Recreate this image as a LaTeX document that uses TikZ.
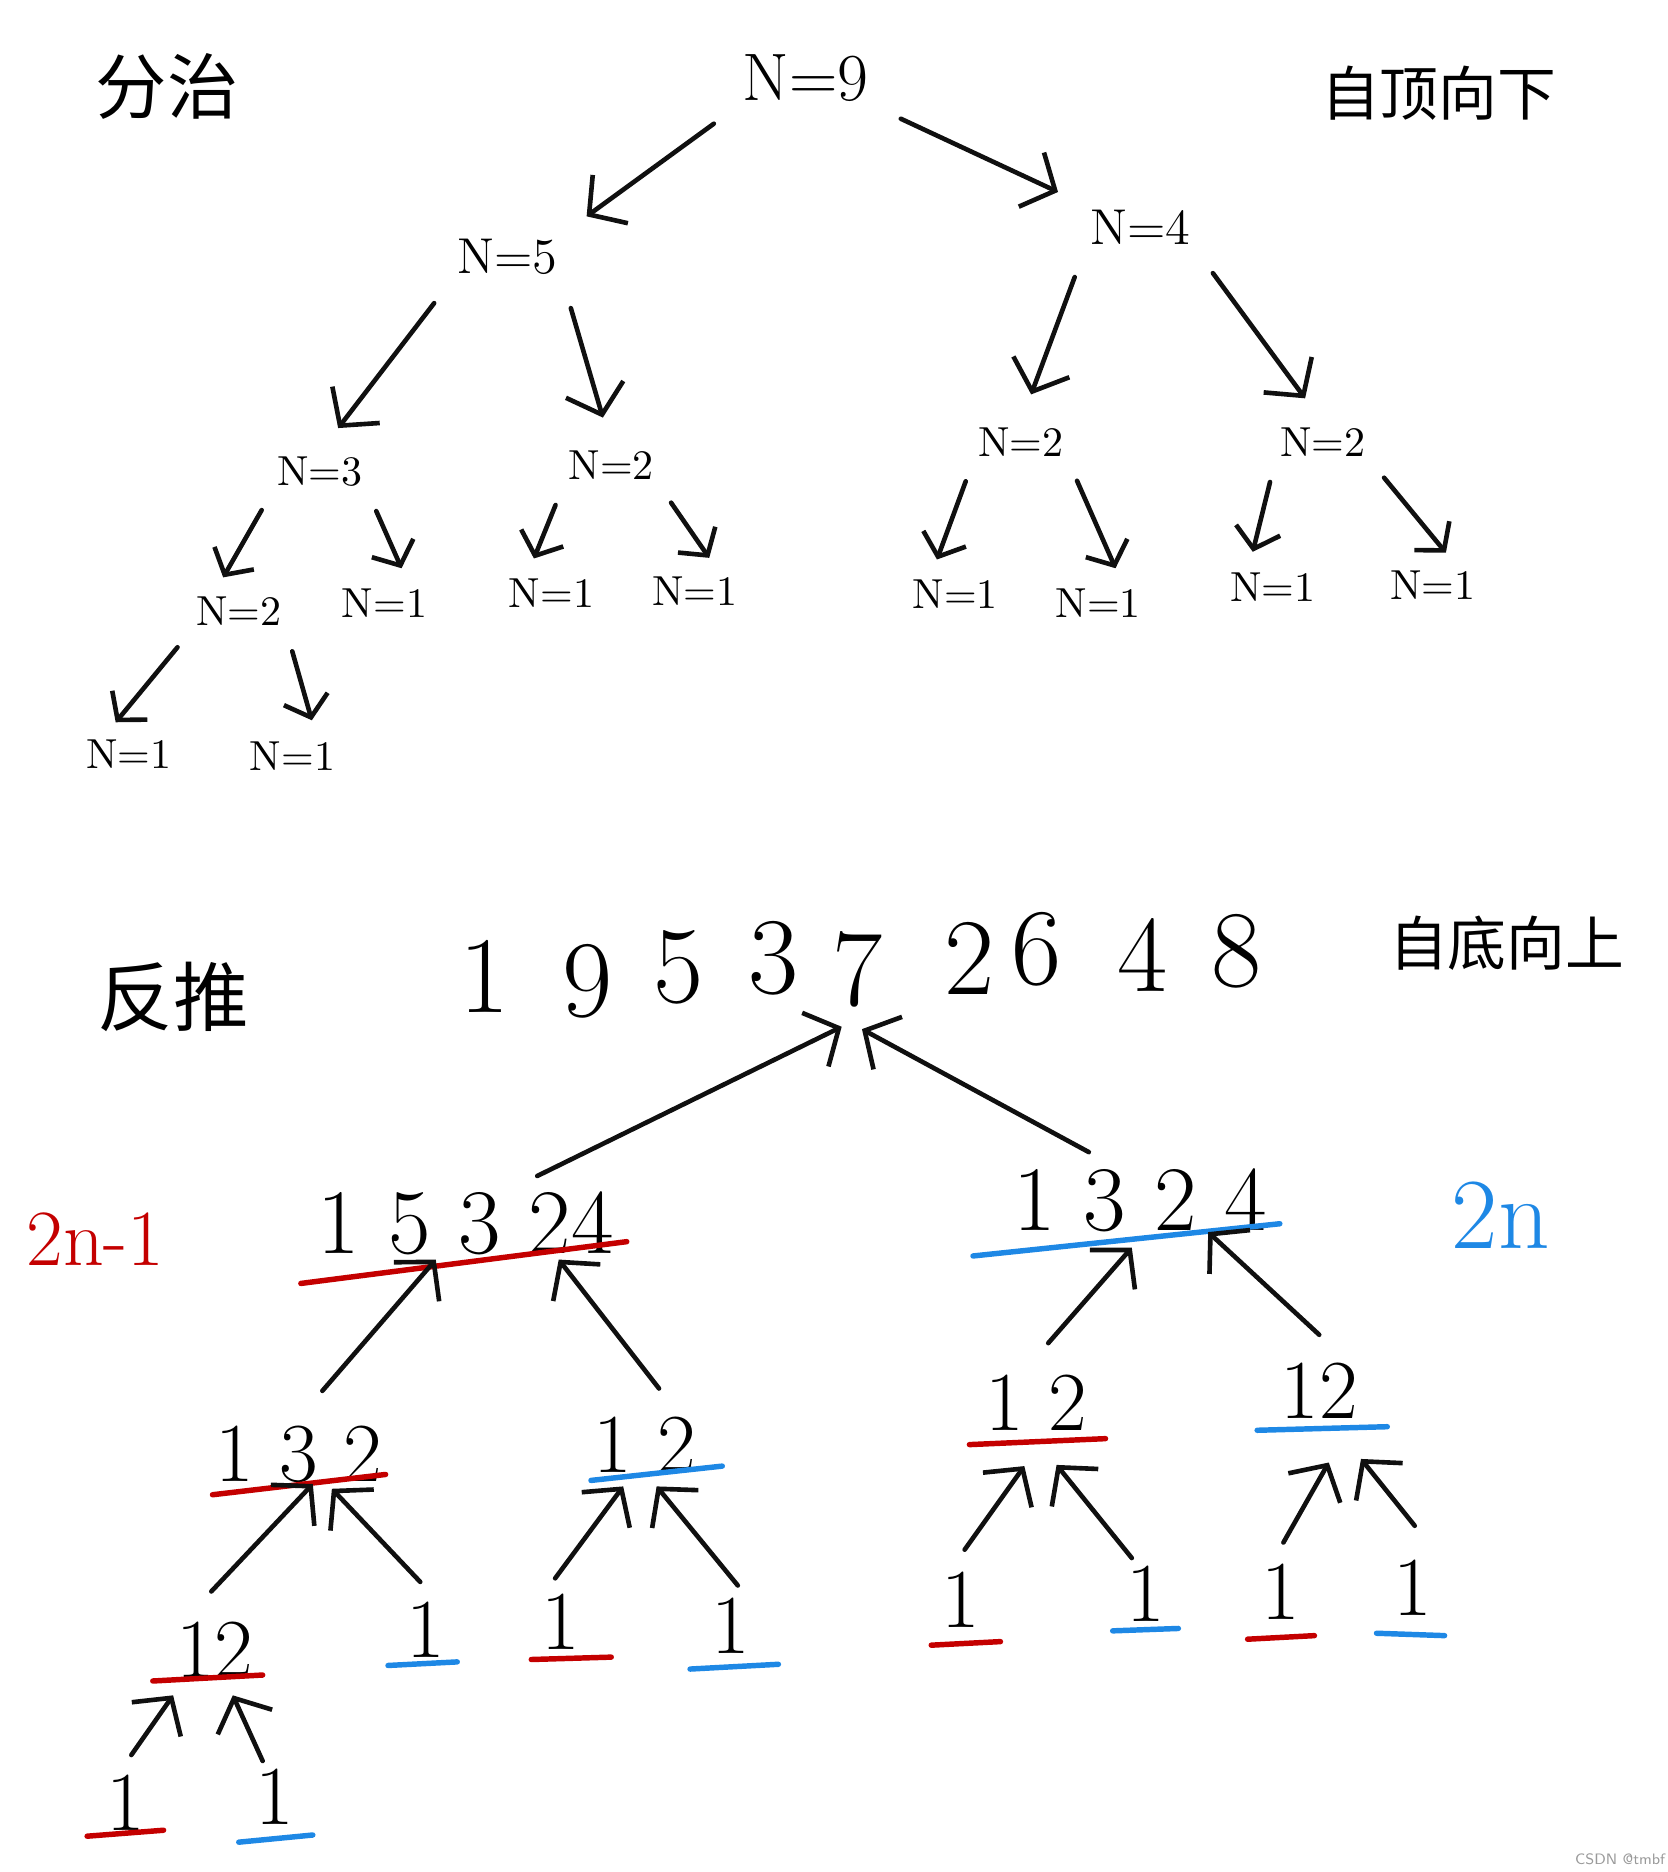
\documentclass[tikz,border=0pt]{standalone}
\usepackage{fontspec}
\usepackage{xcolor}
\usepackage{tikz}
\usetikzlibrary{arrows.meta,positioning,calc}
\newfontfamily\cjk{Noto Sans CJK SC}
\definecolor{Ink}{HTML}{101010}
\definecolor{Red}{HTML}{C40000}
\definecolor{Blue}{HTML}{1E88E5}
\definecolor{Muted}{HTML}{9A9A9A}
\tikzset{
  hand/.style={inner sep=1pt,font=\cjk\fontsize{17}{17}\selectfont},
  nbig/.style={inner sep=1pt,font=\fontsize{16}{16}\selectfont},
  nmid/.style={inner sep=1pt,font=\fontsize{12}{12}\selectfont},
  nsml/.style={inner sep=1pt,font=\fontsize{10}{10}\selectfont},
  numL/.style={inner sep=1pt,font=\fontsize{26}{26}\selectfont},
  num/.style={inner sep=1pt,font=\fontsize{22}{22}\selectfont},
  numS/.style={inner sep=1pt,font=\fontsize{20}{20}\selectfont},
  arrow/.style={-{Straight Barb[length=2.2mm,width=5mm]},line width=1.1pt,draw=Ink,line cap=round},
  down/.style={arrow,shorten <=2.5mm,shorten >=2.5mm},
  downS/.style={arrow,-{Straight Barb[length=1.6mm,width=3.8mm]},shorten <=1.8mm,shorten >=1.4mm},
  redline/.style={draw=Red,line width=1.3pt,line cap=round},
  blueline/.style={draw=Blue,line width=1.3pt,line cap=round},
  note/.style={inner sep=0pt,font=\sffamily\fontsize{3.6}{4}\selectfont,text=Muted}
}
\begin{document}
\begin{tikzpicture}[x=0.01cm,y=-0.01cm]
  \useasboundingbox (0,0) rectangle (1397,1568);
  % divide: top-down
  \node[hand] (fz) at (140,72) {分治};
  \node[hand,font=\cjk\fontsize{14}{14}\selectfont] (zd) at (1205,78) {自顶向下};
  \node[nbig] (n9) at (675,65) {N=9};
  \node[nmid] (n5) at (425,215) {N=5};
  \node[nmid] (n4) at (955,190) {N=4};
  \node[nsml] (n3) at (268,395) {N=3};
  \node[nsml] (n2a) at (512,390) {N=2};
  \node[nsml] (n2b) at (855,370) {N=2};
  \node[nsml] (n2c) at (1108,370) {N=2};
  \node[nsml] (n2d) at (200,512) {N=2};
  \node[nsml] (n1a) at (322,505) {N=1};
  \node[nsml] (n1b) at (462,497) {N=1};
  \node[nsml] (n1c) at (582,495) {N=1};
  \node[nsml] (n1d) at (800,498) {N=1};
  \node[nsml] (n1e) at (920,505) {N=1};
  \node[nsml] (n1f) at (1066,492) {N=1};
  \node[nsml] (n1g) at (1200,490) {N=1};
  \node[nsml] (n1h) at (108,632) {N=1};
  \node[nsml] (n1i) at (245,633) {N=1};
  \draw[down] (n9.south west) -- (n5.north east);
  \draw[down] (n9.south east) -- (n4.north west);
  \draw[down] (n5.south west) -- (n3.north);
  \draw[down] (n5.south east) -- (n2a.north);
  \draw[down] (n4.south west) -- (n2b.north);
  \draw[down] (n4.south east) -- (n2c.north);
  \draw[downS] (n3.south west) -- ([xshift=-2mm]n2d.north);
  \draw[downS] (n3.south east) -- ([xshift=2mm]n1a.north);
  \draw[downS] (n2a.south west) -- ([xshift=-2mm]n1b.north);
  \draw[downS] (n2a.south east) -- ([xshift=2mm]n1c.north);
  \draw[downS] (n2b.south west) -- ([xshift=-2mm]n1d.north);
  \draw[downS] (n2b.south east) -- ([xshift=2mm]n1e.north);
  \draw[downS] (n2c.south west) -- ([xshift=-2mm]n1f.north);
  \draw[downS] (n2c.south east) -- ([xshift=2mm]n1g.north);
  \draw[downS] (n2d.south west) -- ([xshift=-2mm]n1h.north);
  \draw[downS] (n2d.south east) -- ([xshift=2mm]n1i.north);
  % reverse: bottom-up
  \node[hand,font=\cjk\fontsize{18}{18}\selectfont] (ft) at (145,835) {反推};
  \node[hand,font=\cjk\fontsize{14}{14}\selectfont] (zs) at (1262,790) {自底向上};
  \node[numL] (d1) at (406,818) {1};
  \node[numL] (d2) at (492,822) {9};
  \node[numL] (d3) at (568,810) {5};
  \node[numL] (d4) at (648,803) {3};
  \node[numL] (d5) at (718,812) {7};
  \node[numL] (d6) at (812,803) {2};
  \node[numL] (d7) at (868,795) {6};
  \node[numL] (d8) at (957,800) {4};
  \node[numL] (d9) at (1036,797) {8};
  \node[inner sep=1pt,font=\fontsize{19}{19}\selectfont,text=Red] (odd) at (80,1038) {2n-1};
  \node[inner sep=1pt,font=\fontsize{24}{24}\selectfont,text=Blue] (even) at (1257,1018) {2n};
  \node[num] (p1) at (390,1025) {1 5 3 24};
  \node[num] (p2) at (955,1005) {1 3 2 4};
  \node[numS] (c1) at (250,1218) {1 3 2};
  \node[numS] (c2) at (540,1210) {1 2};
  \node[numS] (c3) at (868,1175) {1 2};
  \node[numS] (c4) at (1105,1165) {12};
  \node[numS] (g1) at (180,1382) {12};
  \node[numS] (g2) at (357,1365) {1};
  \node[numS] (g3) at (470,1358) {1};
  \node[numS] (g4) at (612,1362) {1};
  \node[numS] (g5) at (805,1340) {1};
  \node[numS] (g6) at (960,1335) {1};
  \node[numS] (g7) at (1073,1333) {1};
  \node[numS] (g8) at (1183,1330) {1};
  \node[numS] (h1) at (105,1510) {1};
  \node[numS] (h2) at (230,1505) {1};
  % underlines
  \draw[redline] ($(p1)+(-138,50)$) -- ($(p1)+(135,15)$);
  \draw[blueline] ($(p2)+(-140,47)$) -- ($(p2)+(117,20)$);
  \draw[redline] ($(c1)+(-72,34)$) -- ($(c1)+(73,17)$);
  \draw[blueline] ($(c2)+(-45,30)$) -- ($(c2)+(65,18)$);
  \draw[redline] ($(c3)+(-56,35)$) -- ($(c3)+(58,30)$);
  \draw[blueline] ($(c4)+(-52,33)$) -- ($(c4)+(57,30)$);
  \draw[redline] ($(g1)+(-52,26)$) -- ($(g1)+(40,21)$);
  \draw[blueline] ($(g2)+(-32,30)$) -- ($(g2)+(26,27)$);
  \draw[redline] ($(g3)+(-25,32)$) -- ($(g3)+(42,30)$);
  \draw[blueline] ($(g4)+(-34,36)$) -- ($(g4)+(40,32)$);
  \draw[redline] ($(g5)+(-25,38)$) -- ($(g5)+(33,35)$);
  \draw[blueline] ($(g6)+(-28,31)$) -- ($(g6)+(27,29)$);
  \draw[redline] ($(g7)+(-28,40)$) -- ($(g7)+(28,37)$);
  \draw[blueline] ($(g8)+(-30,38)$) -- ($(g8)+(27,40)$);
  \draw[redline] ($(h1)+(-32,28)$) -- ($(h1)+(32,23)$);
  \draw[blueline] ($(h2)+(-30,38)$) -- ($(h2)+(32,32)$);
  % arrows up
  \draw[arrow] ($(p1)+(60,-40)$) -- ($(d5)+(-13,48)$);
  \draw[arrow] ($(p2)+(-43,-40)$) -- ($(d5)+(4,50)$);
  \draw[arrow] ($(c1)+(20,-53)$) -- ($(p1)+(-25,30)$);
  \draw[arrow] ($(c2)+(12,-47)$) -- ($(p1)+(78,30)$);
  \draw[arrow] ($(c3)+(10,-50)$) -- ($(p2)+(-7,40)$);
  \draw[arrow] ($(c4)+(0,-47)$) -- ($(p2)+(57,27)$);
  \draw[arrow] ($(g1)+(-3,-49)$) -- ($(c1)+(12,25)$);
  \draw[arrow] ($(g2)+(-5,-40)$) -- ($(c1)+(28,29)$);
  \draw[arrow] ($(g3)+(-5,-36)$) -- ($(c2)+(-18,35)$);
  \draw[arrow] ($(g4)+(6,-34)$) -- ($(c2)+(10,35)$);
  \draw[arrow] ($(g5)+(3,-42)$) -- ($(c3)+(-10,53)$);
  \draw[arrow] ($(g6)+(-12,-30)$) -- ($(c3)+(17,52)$);
  \draw[arrow] ($(g7)+(2,-41)$) -- ($(c4)+(8,60)$);
  \draw[arrow] ($(g8)+(2,-52)$) -- ($(c4)+(35,57)$);
  \draw[arrow] ($(h1)+(5,-40)$) -- ($(g1)+(-35,38)$);
  \draw[arrow] ($(h2)+(-10,-30)$) -- ($(g1)+(15,38)$);
  \node[note] (wm) at (1357,1557) {CSDN @tmbf};
\end{tikzpicture}
\end{document}
